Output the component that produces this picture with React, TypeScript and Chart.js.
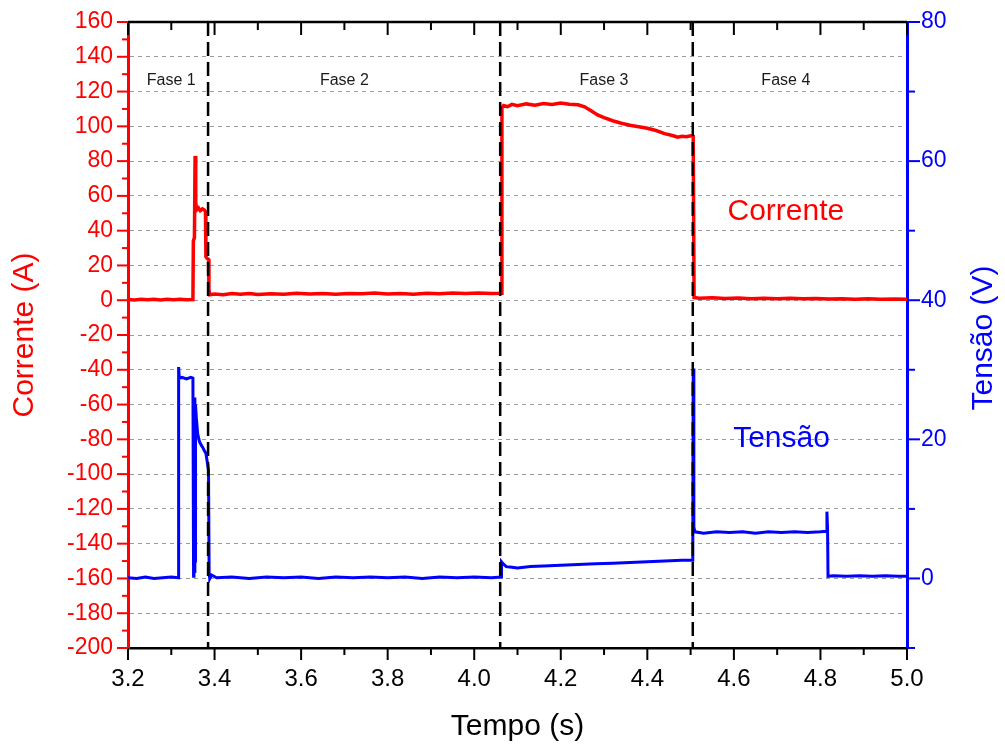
import { useEffect, useRef } from "react";
import { Chart, registerables } from "chart.js";

Chart.register(...registerables);

// Corrente (A) medida ao longo do tempo (s)
const tempoCorrente = [
  3.2, 3.215, 3.23, 3.245, 3.26, 3.275, 3.29, 3.305, 3.32, 3.335, 3.35, 3.351, 3.3535, 3.355, 3.356, 3.357,
  3.359, 3.363, 3.367, 3.372, 3.376, 3.379, 3.38, 3.383, 3.386, 3.387, 3.389,
  3.4, 3.42, 3.44, 3.46, 3.48, 3.5, 3.53, 3.56, 3.59, 3.62, 3.65, 3.68, 3.71, 3.74, 3.77, 3.8, 3.83, 3.86,
  3.89, 3.92, 3.95, 3.98, 4.01, 4.04, 4.062,
  4.064, 4.068, 4.077, 4.087, 4.1, 4.12, 4.14, 4.16, 4.18, 4.2, 4.22, 4.24, 4.255, 4.27, 4.285, 4.3, 4.32,
  4.34, 4.36, 4.38, 4.4, 4.42, 4.44, 4.46, 4.47, 4.48, 4.49, 4.5, 4.506,
  4.508, 4.52, 4.55, 4.58, 4.61, 4.64, 4.67, 4.7, 4.73, 4.76, 4.79, 4.82, 4.85, 4.88, 4.91, 4.94, 4.97, 5.0,
];
const corrente = [
  0.4, 0.2, 0.5, 0.3, 0.6, 0.2, 0.5, 0.3, 0.6, 0.3, 0.4, 34, 36, 83, 72, 56,
  52, 53, 51.5, 52.5, 52, 51, 25, 24, 23.5, 6, 3.2,
  3.6, 3.1, 3.8, 3.4, 3.9, 3.3, 3.7, 3.5, 4.0, 3.6, 3.8, 3.4, 3.9, 3.7, 4.1, 3.6, 3.9, 3.5,
  4.0, 3.7, 4.1, 3.8, 4.2, 3.9, 4.0,
  110.5, 112.0, 111.3, 112.6, 111.8, 112.9, 112.2, 113.1, 112.6, 113.4, 112.7, 112.4, 111.2, 109.0, 106.6, 105.0, 103.2,
  101.8, 100.6, 99.8, 98.9, 97.6, 95.8, 94.6, 93.8, 94.3, 94.0, 94.6, 94.2,
  1.6, 1.2, 1.4, 1.0, 1.3, 0.9, 1.2, 0.8, 1.1, 0.9, 1.0, 0.7, 0.9, 0.6, 0.8, 0.5, 0.7, 0.6,
];

// Tensão (V) medida ao longo do tempo (s)
const tempoTensao = [
  3.2, 3.22, 3.24, 3.26, 3.28, 3.3, 3.316, 3.317, 3.3185, 3.325, 3.335, 3.345, 3.35, 3.3515, 3.3525, 3.3535,
  3.3545, 3.3555, 3.356, 3.358, 3.361, 3.365, 3.369, 3.373, 3.377, 3.38, 3.383, 3.386, 3.3875, 3.389,
  3.393, 3.405, 3.44, 3.48, 3.52, 3.56, 3.6, 3.64, 3.68, 3.72, 3.76, 3.8, 3.84, 3.88, 3.92, 3.96, 4.0, 4.04, 4.062,
  4.063, 4.067, 4.074, 4.087, 4.1, 4.13, 4.16, 4.2, 4.24, 4.28, 4.32, 4.36, 4.4, 4.44, 4.48, 4.505,
  4.506, 4.5075, 4.51, 4.53, 4.56, 4.59, 4.62, 4.65, 4.68, 4.71, 4.74, 4.77, 4.8, 4.814, 4.815, 4.8165,
  4.8175, 4.83, 4.86, 4.89, 4.92, 4.95, 4.98, 5.0,
];
const tensao = [
  0.1, 0.0, 0.2, 0.0, 0.1, 0.2, 0.1, 30.4, 28.8, 28.9, 28.7, 28.9, 28.8, 0.3, 25.5, 1.0,
  26.0, 2.5, 25.0, 23.0, 20.8, 19.7, 19.2, 18.8, 18.3, 18.0, 16.8, 15.6, 0.6, 0.0,
  0.5, 0.1, 0.2, 0.0, 0.2, 0.1, 0.2, 0.0, 0.2, 0.1, 0.2, 0.1, 0.2, 0.0, 0.2, 0.1, 0.2, 0.1, 0.2,
  2.4, 2.1, 1.7, 1.6, 1.5, 1.7, 1.8, 1.9, 2.0, 2.1, 2.2, 2.3, 2.4, 2.5, 2.6, 2.6,
  30.2, 7.4, 6.7, 6.5, 6.7, 6.6, 6.7, 6.5, 6.7, 6.6, 6.7, 6.6, 6.7, 6.8, 9.6, 7.0,
  0.3, 0.4, 0.3, 0.4, 0.3, 0.4, 0.3, 0.3,
];

// Limites entre as fases e rótulos
const limitesFases = [3.385, 4.06, 4.505];
const rotulosFases = ["Fase 1", "Fase 2", "Fase 3", "Fase 4"];
const centrosFases = [3.3, 3.7, 4.3, 4.72];

// Marcas dos eixos
const tempoTicks = [3.2, 3.4, 3.6, 3.8, 4.0, 4.2, 4.4, 4.6, 4.8, 5.0];
const tempoTicksMenores = [3.3, 3.5, 3.7, 3.9, 4.1, 4.3, 4.5, 4.7, 4.9];
const correnteTicks = [-200, -180, -160, -140, -120, -100, -80, -60, -40, -20, 0, 20, 40, 60, 80, 100, 120, 140, 160];
const correnteTicksMenores = [-190, -170, -150, -130, -110, -90, -70, -50, -30, -10, 10, 30, 50, 70, 90, 110, 130, 150];
const tensaoTicks = [0, 20, 40, 60, 80];
const tensaoTicksMenores = [-10, 10, 30, 50, 70];

const VERMELHO = "#ff0000";
const AZUL = "#0000ff";
const FONTE = "'Liberation Sans', Arial, Helvetica, sans-serif";

// remove o espaço extra que o Chart.js reserva para os rótulos nas extremidades
const semPaddingExtra = (s: any) => {
  s.paddingTop = 0;
  s.paddingBottom = 0;
  s.paddingLeft = 0;
  s.paddingRight = 0;
};

const decoracao = {
  id: "decoracao",
  afterDatasetsDraw(chart: any) {
    const { ctx, chartArea } = chart;
    const { left, right, top, bottom } = chartArea;
    const x = chart.scales.x;
    const y = chart.scales.y;
    const y1 = chart.scales.y1;

    ctx.save();
    // borda superior
    ctx.strokeStyle = "#000";
    ctx.lineWidth = 2.5;
    ctx.beginPath();
    ctx.moveTo(left, top);
    ctx.lineTo(right, top);
    ctx.stroke();

    const marca = (x1: number, yA: number, x2: number, yB: number) => {
      ctx.beginPath();
      ctx.moveTo(x1, yA);
      ctx.lineTo(x2, yB);
      ctx.stroke();
    };

    // eixo do tempo: marcas para fora (em baixo) e para dentro (em cima)
    ctx.strokeStyle = "#000";
    ctx.lineWidth = 2;
    tempoTicks.forEach((t) => {
      const px = x.getPixelForValue(t);
      marca(px, bottom, px, bottom + 12);
      marca(px, top, px, top + 13);
    });
    tempoTicksMenores.forEach((t) => {
      const px = x.getPixelForValue(t);
      marca(px, bottom, px, bottom + 7);
      marca(px, top, px, top + 8);
    });

    // eixo da corrente
    ctx.strokeStyle = VERMELHO;
    correnteTicks.forEach((v) => {
      const py = y.getPixelForValue(v);
      marca(left, py, left - 11, py);
    });
    correnteTicksMenores.forEach((v) => {
      const py = y.getPixelForValue(v);
      marca(left, py, left - 6, py);
    });

    // eixo da tensão
    ctx.strokeStyle = AZUL;
    tensaoTicks.forEach((v) => {
      const py = y1.getPixelForValue(v);
      marca(right, py, right + 13, py);
    });
    tensaoTicksMenores.forEach((v) => {
      const py = y1.getPixelForValue(v);
      marca(right, py, right + 8, py);
    });
    ctx.restore();
  },
  afterDraw(chart: any) {
    const { ctx, chartArea } = chart;
    const x = chart.scales.x;
    const y = chart.scales.y;
    const y1 = chart.scales.y1;
    ctx.save();
    ctx.textAlign = "center";
    ctx.textBaseline = "middle";

    // rótulos das fases
    ctx.fillStyle = "#1a1a1a";
    ctx.font = `16px ${FONTE}`;
    rotulosFases.forEach((r, i) => {
      ctx.fillText(r, x.getPixelForValue(centrosFases[i]), y.getPixelForValue(126.5));
    });

    // identificação das curvas
    ctx.font = `30px ${FONTE}`;
    ctx.fillStyle = VERMELHO;
    ctx.fillText("Corrente", x.getPixelForValue(4.72), y.getPixelForValue(51));
    ctx.fillStyle = AZUL;
    ctx.fillText("Tensão", x.getPixelForValue(4.71), y1.getPixelForValue(20.1));

    // títulos dos eixos
    const meioY = (chartArea.top + chartArea.bottom) / 2;
    ctx.fillStyle = "#000";
    ctx.fillText("Tempo (s)", (chartArea.left + chartArea.right) / 2, 727);

    ctx.save();
    ctx.translate(25, meioY);
    ctx.rotate(-Math.PI / 2);
    ctx.fillStyle = VERMELHO;
    ctx.fillText("Corrente (A)", 0, 0);
    ctx.restore();

    ctx.save();
    ctx.translate(984, meioY + 3);
    ctx.rotate(-Math.PI / 2);
    ctx.fillStyle = AZUL;
    ctx.fillText("Tensão (V)", 0, 0);
    ctx.restore();

    ctx.restore();
  },
};

export default function App() {
  const canvasRef = useRef<HTMLCanvasElement | null>(null);

  useEffect(() => {
    if (!canvasRef.current) return;

    const linhasFases = limitesFases.map((t) => ({
      label: "fase",
      data: [
        { x: t, y: 160 },
        { x: t, y: -200 },
      ],
      borderColor: "#000",
      borderWidth: 2.5,
      borderDash: [14, 6],
      pointRadius: 0,
      yAxisID: "y",
      order: 0,
    }));

    const chart = new Chart(canvasRef.current, {
      type: "line",
      data: {
        datasets: [
          ...linhasFases,
          {
            label: "Corrente",
            data: corrente.map((v, i) => ({ x: tempoCorrente[i], y: v })),
            borderColor: VERMELHO,
            borderWidth: 3.5,
            pointRadius: 0,
            tension: 0,
            yAxisID: "y",
            order: 1,
          },
          {
            label: "Tensão",
            data: tensao.map((v, i) => ({ x: tempoTensao[i], y: v })),
            borderColor: AZUL,
            borderWidth: 3,
            pointRadius: 0,
            tension: 0,
            yAxisID: "y1",
            order: 2,
          },
        ] as any,
      },
      options: {
        animation: false,
        responsive: false,
        layout: { padding: { top: 22, left: 0, right: 0, bottom: 0 } },
        plugins: { legend: { display: false }, tooltip: { enabled: false } },
        scales: {
          x: {
            type: "linear",
            min: 3.2,
            max: 5.0,
            afterBuildTicks: (s: any) => {
              s.ticks = tempoTicks.map((v) => ({ value: v }));
            },
            afterFit: (s: any) => {
              s.height = 101;
              semPaddingExtra(s);
            },
            ticks: {
              callback: (v: any) => Number(v).toFixed(1),
              color: "#000",
              font: { family: FONTE, size: 24 },
              padding: 17,
              maxRotation: 0,
              autoSkip: false,
            },
            grid: { drawOnChartArea: false, drawTicks: false },
            border: { color: "#000", width: 2.5 },
          },
          y: {
            position: "left",
            min: -200,
            max: 160,
            afterBuildTicks: (s: any) => {
              s.ticks = correnteTicks.map((v) => ({ value: v }));
            },
            afterFit: (s: any) => {
              s.width = 128;
              semPaddingExtra(s);
            },
            ticks: {
              color: VERMELHO,
              font: { family: FONTE, size: 23 },
              padding: 15,
              autoSkip: false,
            },
            grid: {
              drawTicks: false,
              lineWidth: 1,
              color: (c: any) =>
                c.tick && (c.tick.value === 160 || c.tick.value === -200) ? "rgba(0,0,0,0)" : "#9a9a9a",
            },
            border: { color: VERMELHO, width: 3, dash: [4, 4] },
          },
          y1: {
            position: "right",
            min: -10,
            max: 80,
            afterBuildTicks: (s: any) => {
              s.ticks = tensaoTicks.map((v) => ({ value: v }));
            },
            afterFit: (s: any) => {
              s.width = 98;
              semPaddingExtra(s);
            },
            ticks: {
              color: AZUL,
              font: { family: FONTE, size: 23 },
              padding: 14,
              autoSkip: false,
            },
            grid: { drawOnChartArea: false, drawTicks: false },
            border: { color: AZUL, width: 3 },
          },
        },
      } as any,
      plugins: [decoracao],
    });

    return () => chart.destroy();
  }, []);

  return (
    <div style={{ position: "fixed", left: 0, top: 0, width: 1005, height: 749, background: "#fff" }}>
      <canvas ref={canvasRef} width={1005} height={749} style={{ display: "block" }} />
    </div>
  );
}
